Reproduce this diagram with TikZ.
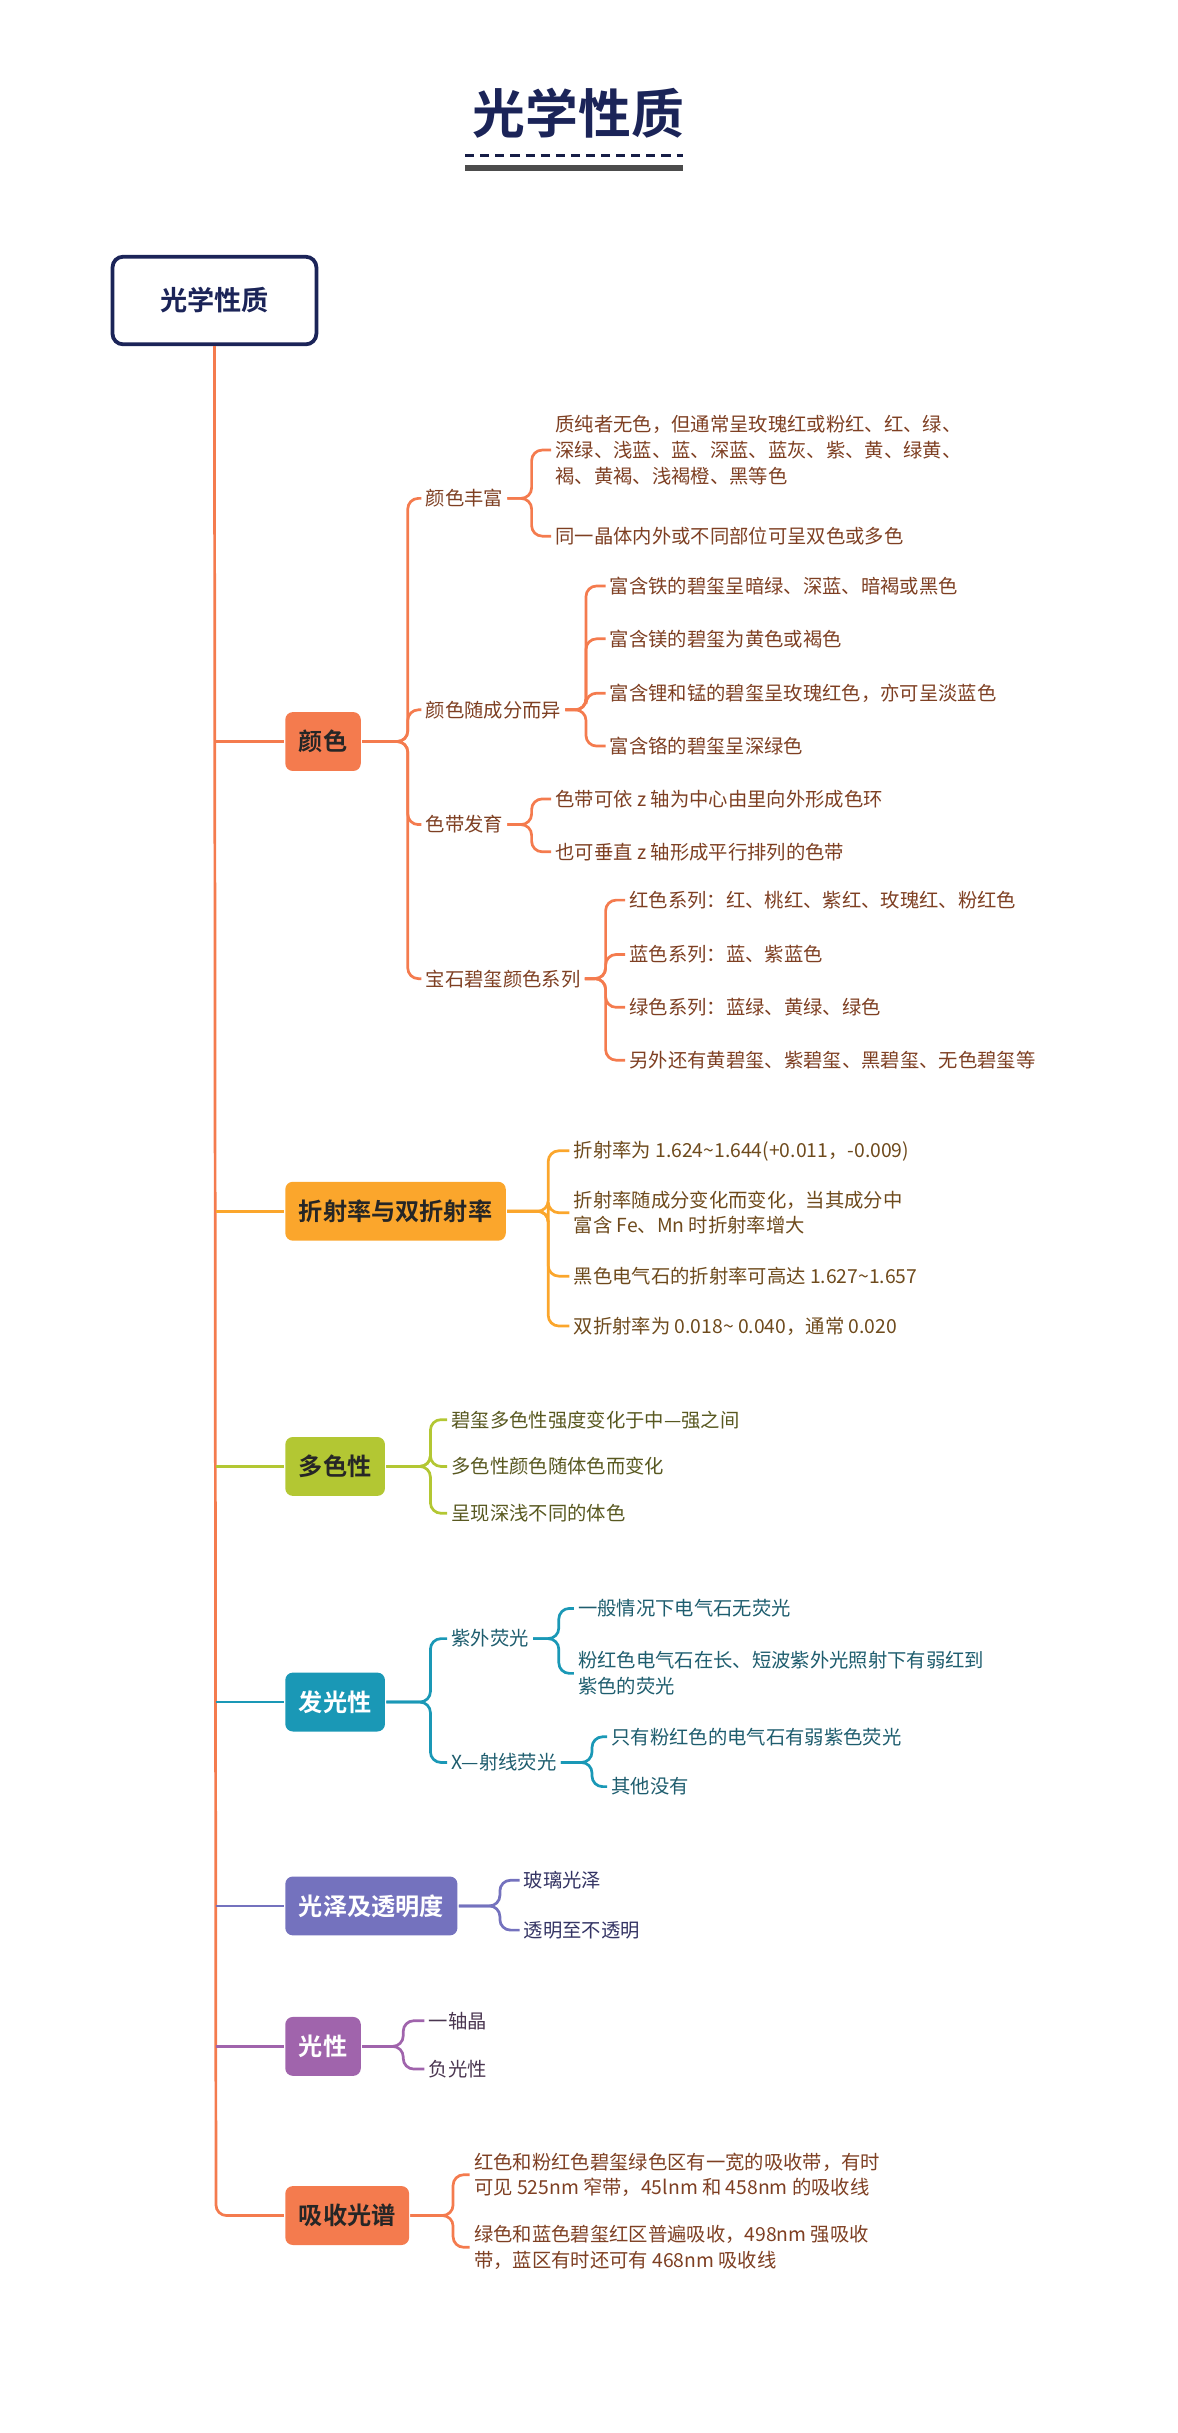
\documentclass[tikz,border=0pt]{standalone}
\usepackage{fontspec}
\setmainfont{Noto Sans CJK SC}[BoldFont={Noto Sans CJK SC Bold}]
\usetikzlibrary{positioning}
\definecolor{navy}{HTML}{1B2458}
\definecolor{coral}{HTML}{F47B4E}
\definecolor{amber}{HTML}{FBA62C}
\definecolor{lime}{HTML}{B3C733}
\definecolor{teal}{HTML}{1A98B6}
\definecolor{slate}{HTML}{7472BE}
\definecolor{plum}{HTML}{A064AC}
\definecolor{tcoral}{HTML}{7E3F22}
\definecolor{tamber}{HTML}{6E4A1C}
\definecolor{tlime}{HTML}{585820}
\definecolor{tteal}{HTML}{1E5D6E}
\definecolor{tslate}{HTML}{343464}
\definecolor{tplum}{HTML}{4A3650}

\begin{document}
\begin{tikzpicture}[x=1pt,y=-1pt,line width=1.8pt,
  topic/.style={rounded corners=5pt,inner xsep=9pt,minimum height=39pt,font=\fontsize{16}{18}\selectfont\bfseries,anchor=west},
  sub/.style={anchor=west,inner sep=2pt,font=\fontsize{12.8}{17}\selectfont},
  leaf/.style={anchor=west,inner sep=2pt,align=left,font=\fontsize{12.8}{17}\selectfont},
  link/.style={rounded corners=7pt}]
\useasboundingbox (0,0) rectangle (780,1611);
% title
\node[navy,font=\fontsize{35}{40}\selectfont\bfseries] (title) at (383,75) {光学性质};
\draw[navy!80!black,dashed,line width=1.5pt,dash pattern=on 6pt off 4pt] (308,103) -- (452,103);
\draw[black!70,line width=4pt] (308,111) -- (452,111);
\node[draw=navy,line width=2.5pt,rounded corners=7pt,minimum width=135pt,minimum height=58pt,
  text=navy,font=\fontsize{18}{20}\selectfont\bfseries] (root) at (142,199) {光学性质};

% first level
\node[topic,fill=coral,text=black!85] (color) at (188,491) {颜色};
\node[topic,fill=amber,text=black!85] (refr) at (188,802) {折射率与双折射率};
\node[topic,fill=lime,text=black!85] (pleo) at (188,971) {多色性};
\node[topic,fill=teal,text=white] (lumi) at (188,1127) {发光性};
\node[topic,fill=slate,text=white] (lust) at (188,1262) {光泽及透明度};
\node[topic,fill=plum,text=white] (opti) at (188,1355) {光性};
\node[topic,fill=coral,text=black!85] (spec) at (188,1467) {吸收光谱};

\draw[coral,link] (root.south) -- (143,1467) -- (spec.west);
\draw[coral] (143,491) -- (color.west);
\draw[amber] (143,802) -- (refr.west);
\draw[lime] (143,971) -- (pleo.west);
\draw[teal] (143,1127) -- (lumi.west);
\draw[slate] (143,1262) -- (lust.west);
\draw[plum] (143,1355) -- (opti.west);

% 颜色
\begin{scope}[text=tcoral]
\node[sub] (rich) at (279,330) {颜色丰富};
\node[sub] (vary) at (279,470) {颜色随成分而异};
\node[sub] (band) at (279,546) {色带发育};
\node[sub] (seri) at (279,648) {宝石碧玺颜色系列};
\node[leaf] (rich1) at (365,298) {质纯者无色，但通常呈玫瑰红或粉红、红、绿、\\深绿、浅蓝、蓝、深蓝、蓝灰、紫、黄、绿黄、\\褐、黄褐、浅褐橙、黑等色};
\node[leaf] (rich2) at (365,355) {同一晶体内外或不同部位可呈双色或多色};
\node[leaf] (vary1) at (401,388) {富含铁的碧玺呈暗绿、深蓝、暗褐或黑色};
\node[leaf] (vary2) at (401,423) {富含镁的碧玺为黄色或褐色};
\node[leaf] (vary3) at (401,459) {富含锂和锰的碧玺呈玫瑰红色，亦可呈淡蓝色};
\node[leaf] (vary4) at (401,494) {富含铬的碧玺呈深绿色};
\node[leaf] (band1) at (365,529) {色带可依 z 轴为中心由里向外形成色环};
\node[leaf] (band2) at (365,564) {也可垂直 z 轴形成平行排列的色带};
\node[leaf] (seri1) at (414,596) {红色系列：红、桃红、紫红、玫瑰红、粉红色};
\node[leaf] (seri2) at (414,632) {蓝色系列：蓝、紫蓝色};
\node[leaf] (seri3) at (414,667) {绿色系列：蓝绿、黄绿、绿色};
\node[leaf] (seri4) at (414,702) {另外还有黄碧玺、紫碧玺、黑碧玺、无色碧玺等};
\end{scope}
\coordinate (bcolor) at (270,491);
\foreach \n in {rich,vary,band,seri} \draw[coral,link] (color.east) -- (bcolor) |- (\n.west);
\coordinate (brich) at (352,330);
\foreach \n in {rich1,rich2} \draw[coral,link] (rich.east) -- (brich) |- (\n.west);
\coordinate (bvary) at (388,470);
\foreach \n in {vary1,vary2,vary3,vary4} \draw[coral,link] (vary.east) -- (bvary) |- (\n.west);
\coordinate (bband) at (352,546);
\foreach \n in {band1,band2} \draw[coral,link] (band.east) -- (bband) |- (\n.west);
\coordinate (bseri) at (401,648);
\foreach \n in {seri1,seri2,seri3,seri4} \draw[coral,link] (seri.east) -- (bseri) |- (\n.west);

% 折射率
\begin{scope}[text=tamber]
\node[leaf] (refr1) at (377,762) {折射率为 1.624\textasciitilde1.644(+0.011，-0.009)};
\node[leaf] (refr2) at (377,803) {折射率随成分变化而变化，当其成分中\\富含 Fe、Mn 时折射率增大};
\node[leaf] (refr3) at (377,845) {黑色电气石的折射率可高达 1.627\textasciitilde1.657};
\node[leaf] (refr4) at (377,878) {双折射率为 0.018\textasciitilde{} 0.040，通常 0.020};
\end{scope}
\coordinate (brefr) at (363,802);
\foreach \n in {refr1,refr2,refr3,refr4} \draw[amber,link] (refr.east) -- (brefr) |- (\n.west);

% 多色性
\begin{scope}[text=tlime]
\node[leaf] (pleo1) at (296,940) {碧玺多色性强度变化于中—强之间};
\node[leaf] (pleo2) at (296,971) {多色性颜色随体色而变化};
\node[leaf] (pleo3) at (296,1002) {呈现深浅不同的体色};
\end{scope}
\coordinate (bpleo) at (285,971);
\foreach \n in {pleo1,pleo2,pleo3} \draw[lime,link] (pleo.east) -- (bpleo) |- (\n.west);

% 发光性
\begin{scope}[text=tteal]
\node[sub] (uv) at (296,1085) {紫外荧光};
\node[sub] (xray) at (296,1167) {X—射线荧光};
\node[leaf] (uv1) at (380,1065) {一般情况下电气石无荧光};
\node[leaf] (uv2) at (380,1108) {粉红色电气石在长、短波紫外光照射下有弱红到\\紫色的荧光};
\node[leaf] (xray1) at (402,1150) {只有粉红色的电气石有弱紫色荧光};
\node[leaf] (xray2) at (402,1183) {其他没有};
\end{scope}
\coordinate (blumi) at (285,1127);
\foreach \n in {uv,xray} \draw[teal,link] (lumi.east) -- (blumi) |- (\n.west);
\coordinate (buv) at (370,1085);
\foreach \n in {uv1,uv2} \draw[teal,link] (uv.east) -- (buv) |- (\n.west);
\coordinate (bxray) at (392,1167);
\foreach \n in {xray1,xray2} \draw[teal,link] (xray.east) -- (bxray) |- (\n.west);

% 光泽及透明度
\begin{scope}[text=tslate]
\node[leaf] (lust1) at (344,1245) {玻璃光泽};
\node[leaf] (lust2) at (344,1278) {透明至不透明};
\end{scope}
\coordinate (blust) at (331,1262);
\foreach \n in {lust1,lust2} \draw[slate,link] (lust.east) -- (blust) |- (\n.west);

% 光性
\begin{scope}[text=tplum]
\node[leaf] (opti1) at (281,1338) {一轴晶};
\node[leaf] (opti2) at (281,1370) {负光性};
\end{scope}
\coordinate (bopti) at (267,1355);
\foreach \n in {opti1,opti2} \draw[plum,link] (opti.east) -- (bopti) |- (\n.west);

% 吸收光谱
\begin{scope}[text=tcoral]
\node[leaf] (spec1) at (311,1440) {红色和粉红色碧玺绿色区有一宽的吸收带，有时\\可见 525nm 窄带，45lnm 和 458nm 的吸收线};
\node[leaf] (spec2) at (311,1488) {绿色和蓝色碧玺红区普遍吸收，498nm 强吸收\\带，蓝区有时还可有 468nm 吸收线};
\end{scope}
\coordinate (bspec) at (300,1467);
\foreach \n in {spec1,spec2} \draw[coral,link] (spec.east) -- (bspec) |- (\n.west);
\end{tikzpicture}
\end{document}
